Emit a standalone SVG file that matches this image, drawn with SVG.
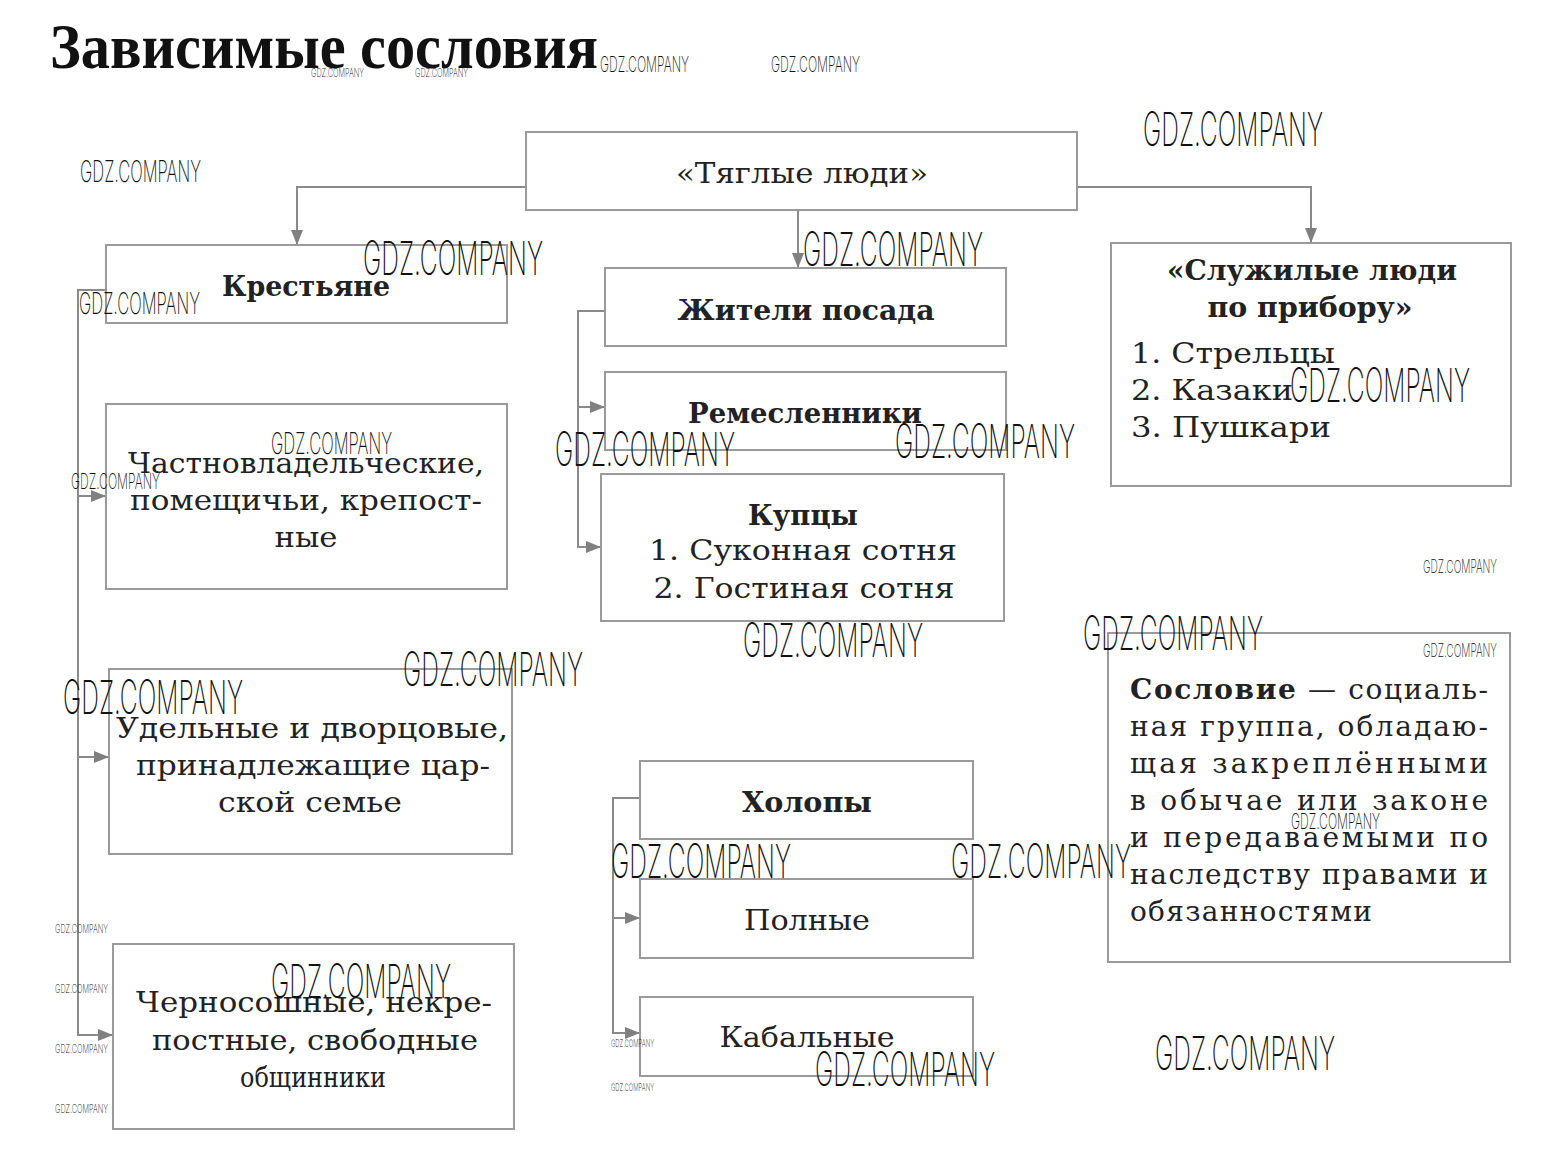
<svg xmlns="http://www.w3.org/2000/svg" width="1556" height="1174" viewBox="0 0 1556 1174">
<style>
.box{fill:#fff;stroke:#9a9a9a;stroke-width:2}
.t{font-family:"DejaVu Serif","Liberation Serif",serif;font-size:28px;fill:#222;text-anchor:middle}
.tl{font-family:"DejaVu Serif","Liberation Serif",serif;font-size:28px;fill:#222}
.b{font-weight:bold}
.con{fill:none;stroke:#8a8a8a;stroke-width:2}
.wm{font-family:Inter,"DejaVu Sans",sans-serif;font-weight:200;fill:#111}
.wl{font-size:47px}
.wmd{font-size:30px}
.ws{font-size:22px}
.ws2{font-size:18px}
.wt{font-size:12px}
.wt2{font-size:10px}
</style>
<defs>
<marker id="arr" markerUnits="userSpaceOnUse" markerWidth="15" markerHeight="12" refX="15" refY="6" orient="auto">
<path d="M0,0 L15,6 L0,12 z" fill="#808080"/>
</marker>
</defs>
<rect width="1556" height="1174" fill="#fff"/>
<text x="50" y="68" font-family="'Liberation Serif',serif" font-weight="bold" font-size="64" fill="#111" textLength="548" lengthAdjust="spacingAndGlyphs">Зависимые сословия</text>

<g id="connectors">
<path class="con" d="M526,187 H297 V245" marker-end="url(#arr)"/>
<path class="con" d="M798,210 V268" marker-end="url(#arr)"/>
<path class="con" d="M1077,187 H1311 V243" marker-end="url(#arr)"/>
<path class="con" d="M106,290 H78 V1035 H113" marker-end="url(#arr)"/>
<path class="con" d="M78,496 H106" marker-end="url(#arr)"/>
<path class="con" d="M78,757 H109" marker-end="url(#arr)"/>
<path class="con" d="M605,311 H578 V547 H601" marker-end="url(#arr)"/>
<path class="con" d="M578,407 H605" marker-end="url(#arr)"/>
<path class="con" d="M640,798 H613 V1033 H640" marker-end="url(#arr)"/>
<path class="con" d="M613,918 H640" marker-end="url(#arr)"/>
</g>

<g id="tyaglye">
<rect class="box" x="526" y="132" width="551" height="78"/>
<text class="t" x="802" y="183" textLength="252" lengthAdjust="spacingAndGlyphs">«Тяглые люди»</text>
</g>
<g id="krestyane">
<rect class="box" x="106" y="245" width="401" height="78"/>
<text class="t b" x="306" y="296" textLength="168" lengthAdjust="spacingAndGlyphs">Крестьяне</text>
</g>
<g id="chastnovlad">
<rect class="box" x="106" y="404" width="401" height="185"/>
<text class="t" x="306" y="473" textLength="356" lengthAdjust="spacingAndGlyphs">Частновладельческие,</text>
<text class="t" x="306" y="510" textLength="352" lengthAdjust="spacingAndGlyphs">помещичьи, крепост-</text>
<text class="t" x="306" y="547" textLength="63" lengthAdjust="spacingAndGlyphs">ные</text>
</g>
<g id="udelnye">
<rect class="box" x="109" y="669" width="403" height="185"/>
<text class="t" x="312" y="738" textLength="392" lengthAdjust="spacingAndGlyphs">Удельные и дворцовые,</text>
<text class="t" x="313" y="775" textLength="354" lengthAdjust="spacingAndGlyphs">принадлежащие цар-</text>
<text class="t" x="310" y="812" textLength="184" lengthAdjust="spacingAndGlyphs">ской семье</text>
</g>
<g id="chernososhnye">
<rect class="box" x="113" y="944" width="401" height="185"/>
<text class="t" x="314" y="1012" textLength="356" lengthAdjust="spacingAndGlyphs">Черносошные, некре-</text>
<text class="t" x="315" y="1050" textLength="326" lengthAdjust="spacingAndGlyphs">постные, свободные</text>
<text class="t" x="313" y="1087" textLength="146" lengthAdjust="spacingAndGlyphs">общинники</text>
</g>
<g id="posad">
<rect class="box" x="605" y="268" width="401" height="78"/>
<text class="t b" x="806" y="320" textLength="257" lengthAdjust="spacingAndGlyphs">Жители посада</text>
</g>
<g id="remeslenniki">
<rect class="box" x="605" y="372" width="401" height="78"/>
<text class="t b" x="805" y="423" textLength="234" lengthAdjust="spacingAndGlyphs">Ремесленники</text>
</g>
<g id="kuptsy">
<rect class="box" x="601" y="474" width="403" height="147"/>
<text class="t b" x="803" y="525" textLength="110" lengthAdjust="spacingAndGlyphs">Купцы</text>
<text class="t" x="803" y="560" textLength="308" lengthAdjust="spacingAndGlyphs">1. Суконная сотня</text>
<text class="t" x="804" y="598" textLength="301" lengthAdjust="spacingAndGlyphs">2. Гостиная сотня</text>
</g>
<g id="sluzhilye">
<rect class="box" x="1111" y="243" width="400" height="243"/>
<text class="t b" x="1312" y="280" textLength="290" lengthAdjust="spacingAndGlyphs">«Служилые люди</text>
<text class="t b" x="1310" y="317" textLength="205" lengthAdjust="spacingAndGlyphs">по прибору»</text>
<text class="tl" x="1131" y="363" textLength="204" lengthAdjust="spacingAndGlyphs">1. Стрельцы</text>
<text class="tl" x="1131" y="400" textLength="162" lengthAdjust="spacingAndGlyphs">2. Казаки</text>
<text class="tl" x="1131" y="437" textLength="200" lengthAdjust="spacingAndGlyphs">3. Пушкари</text>
</g>
<g id="kholopy">
<rect class="box" x="640" y="761" width="333" height="78"/>
<text class="t b" x="807" y="812" textLength="130" lengthAdjust="spacingAndGlyphs">Холопы</text>
</g>
<g id="polnye">
<rect class="box" x="640" y="879" width="333" height="79"/>
<text class="t" x="807" y="930" textLength="126" lengthAdjust="spacingAndGlyphs">Полные</text>
</g>
<g id="kabalnye">
<rect class="box" x="640" y="997" width="333" height="79"/>
<text class="t" x="807" y="1047" textLength="175" lengthAdjust="spacingAndGlyphs">Кабальные</text>
</g>
<g id="soslovie">
<rect class="box" x="1108" y="633" width="402" height="329"/>
<text class="tl" x="1130" y="699" textLength="358" lengthAdjust="spacing"><tspan font-weight="bold">Сословие</tspan> — социаль-</text>
<text class="tl" x="1130" y="736" textLength="358" lengthAdjust="spacing">ная группа, обладаю-</text>
<text class="tl" x="1130" y="773" textLength="358" lengthAdjust="spacing">щая  закреплёнными</text>
<text class="tl" x="1130" y="810" textLength="358" lengthAdjust="spacing">в обычае или законе</text>
<text class="tl" x="1130" y="847" textLength="358" lengthAdjust="spacing">и передаваемыми по</text>
<text class="tl" x="1130" y="884" textLength="358" lengthAdjust="spacing">наследству правами и</text>
<text class="tl" x="1130" y="921" textLength="242" lengthAdjust="spacing">обязанностями</text>
</g>

<g id="watermarks">
<text class="wm wl" x="1143" y="146" textLength="180" lengthAdjust="spacingAndGlyphs">GDZ.COMPANY</text>
<text class="wm wl" x="363" y="275" textLength="180" lengthAdjust="spacingAndGlyphs">GDZ.COMPANY</text>
<text class="wm wl" x="803" y="266" textLength="180" lengthAdjust="spacingAndGlyphs">GDZ.COMPANY</text>
<text class="wm wl" x="1290" y="402" textLength="180" lengthAdjust="spacingAndGlyphs">GDZ.COMPANY</text>
<text class="wm wl" x="555" y="466" textLength="180" lengthAdjust="spacingAndGlyphs">GDZ.COMPANY</text>
<text class="wm wl" x="895" y="458" textLength="180" lengthAdjust="spacingAndGlyphs">GDZ.COMPANY</text>
<text class="wm wl" x="743" y="657" textLength="180" lengthAdjust="spacingAndGlyphs">GDZ.COMPANY</text>
<text class="wm wl" x="1083" y="650" textLength="180" lengthAdjust="spacingAndGlyphs">GDZ.COMPANY</text>
<text class="wm wl" x="403" y="686" textLength="180" lengthAdjust="spacingAndGlyphs">GDZ.COMPANY</text>
<text class="wm wl" x="63" y="714" textLength="180" lengthAdjust="spacingAndGlyphs">GDZ.COMPANY</text>
<text class="wm wl" x="611" y="878" textLength="180" lengthAdjust="spacingAndGlyphs">GDZ.COMPANY</text>
<text class="wm wl" x="951" y="878" textLength="180" lengthAdjust="spacingAndGlyphs">GDZ.COMPANY</text>
<text class="wm wl" x="271" y="998" textLength="180" lengthAdjust="spacingAndGlyphs">GDZ.COMPANY</text>
<text class="wm wl" x="815" y="1086" textLength="180" lengthAdjust="spacingAndGlyphs">GDZ.COMPANY</text>
<text class="wm wl" x="1155" y="1070" textLength="180" lengthAdjust="spacingAndGlyphs">GDZ.COMPANY</text>
<text class="wm wmd" x="80" y="182" textLength="121" lengthAdjust="spacingAndGlyphs">GDZ.COMPANY</text>
<text class="wm wmd" x="79" y="314" textLength="121" lengthAdjust="spacingAndGlyphs">GDZ.COMPANY</text>
<text class="wm wmd" x="271" y="454" textLength="121" lengthAdjust="spacingAndGlyphs">GDZ.COMPANY</text>
<text class="wm ws" x="600" y="72" textLength="89" lengthAdjust="spacingAndGlyphs">GDZ.COMPANY</text>
<text class="wm ws" x="771" y="72" textLength="89" lengthAdjust="spacingAndGlyphs">GDZ.COMPANY</text>
<text class="wm ws" x="71" y="489" textLength="89" lengthAdjust="spacingAndGlyphs">GDZ.COMPANY</text>
<text class="wm ws" x="1291" y="829" textLength="89" lengthAdjust="spacingAndGlyphs">GDZ.COMPANY</text>
<text class="wm ws2" x="1423" y="573" textLength="74" lengthAdjust="spacingAndGlyphs">GDZ.COMPANY</text>
<text class="wm ws2" x="1423" y="657" textLength="74" lengthAdjust="spacingAndGlyphs">GDZ.COMPANY</text>
<text class="wm wt" x="311" y="77" textLength="53" lengthAdjust="spacingAndGlyphs">GDZ.COMPANY</text>
<text class="wm wt" x="415" y="77" textLength="53" lengthAdjust="spacingAndGlyphs">GDZ.COMPANY</text>
<text class="wm wt" x="55" y="933" textLength="53" lengthAdjust="spacingAndGlyphs">GDZ.COMPANY</text>
<text class="wm wt" x="55" y="993" textLength="53" lengthAdjust="spacingAndGlyphs">GDZ.COMPANY</text>
<text class="wm wt" x="55" y="1053" textLength="53" lengthAdjust="spacingAndGlyphs">GDZ.COMPANY</text>
<text class="wm wt" x="55" y="1113" textLength="53" lengthAdjust="spacingAndGlyphs">GDZ.COMPANY</text>
<text class="wm wt2" x="611" y="1047" textLength="43" lengthAdjust="spacingAndGlyphs">GDZ.COMPANY</text>
<text class="wm wt2" x="611" y="1091" textLength="43" lengthAdjust="spacingAndGlyphs">GDZ.COMPANY</text>
</g>
</svg>
